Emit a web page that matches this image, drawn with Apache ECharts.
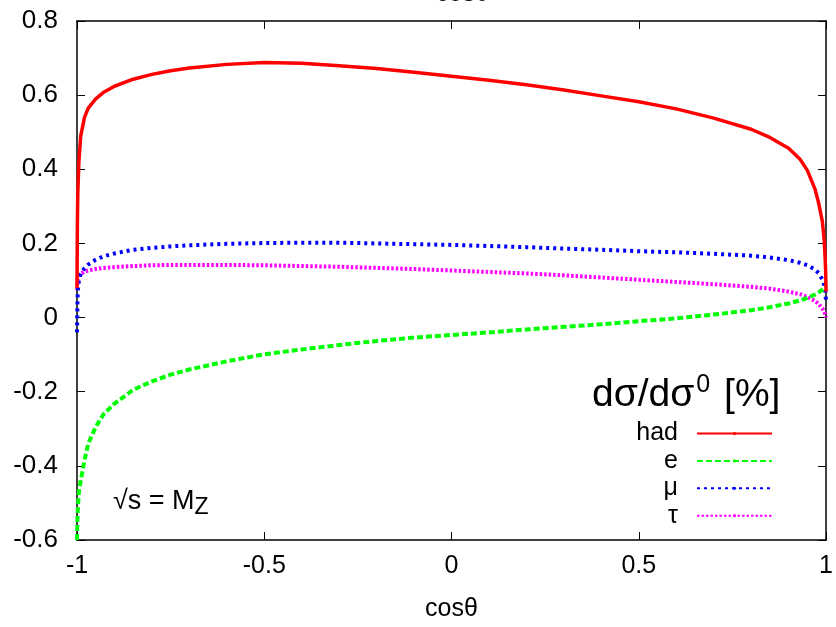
<!DOCTYPE html>
<html>
<head>
<meta charset="utf-8">
<script src="https://cdn.jsdelivr.net/npm/echarts@6/dist/echarts.min.js"></script>
<style>
html,body{margin:0;padding:0;background:#fff;}
#chart{width:836px;height:627px;}
</style>
</head>
<body>
<div id="chart"></div>
<script>
const cosTheta = [-1, -0.999, -0.998, -0.995, -0.99, -0.98, -0.97, -0.95, -0.93, -0.9, -0.85, -0.8, -0.75, -0.7, -0.6, -0.5, -0.4, -0.3, -0.2, -0.1, 0, 0.1, 0.2, 0.3, 0.4, 0.5, 0.6, 0.7, 0.8, 0.85, 0.9, 0.93, 0.95, 0.97, 0.98, 0.99, 0.995, 0.998, 0.999, 1];
const hadValues = [0.08, 0.25, 0.33, 0.42, 0.49, 0.54, 0.565, 0.59, 0.607, 0.624, 0.643, 0.656, 0.666, 0.673, 0.683, 0.688, 0.686, 0.679, 0.672, 0.662, 0.651, 0.64, 0.628, 0.614, 0.598, 0.582, 0.563, 0.538, 0.508, 0.486, 0.457, 0.428, 0.397, 0.348, 0.31, 0.26, 0.21, 0.15, 0.12, 0.07];
const eValues = [-0.6, -0.55, -0.52, -0.47, -0.44, -0.385, -0.34, -0.295, -0.262, -0.232, -0.195, -0.172, -0.154, -0.14, -0.118, -0.099, -0.086, -0.074, -0.063, -0.054, -0.047, -0.04, -0.032, -0.025, -0.018, -0.01, -0.002, 0.008, 0.02, 0.028, 0.038, 0.046, 0.053, 0.062, 0.068, 0.075, 0.08, 0.083, 0.085, 0.087];
const muValues = [-0.04, 0.03, 0.07, 0.1, 0.118, 0.133, 0.143, 0.156, 0.165, 0.173, 0.183, 0.188, 0.192, 0.195, 0.199, 0.201, 0.202, 0.202, 0.2, 0.198, 0.196, 0.193, 0.19, 0.186, 0.183, 0.179, 0.176, 0.172, 0.167, 0.162, 0.155, 0.148, 0.141, 0.13, 0.12, 0.103, 0.088, 0.072, 0.06, 0.04];
const tauValues = [0.075, 0.095, 0.105, 0.112, 0.118, 0.124, 0.127, 0.131, 0.134, 0.136, 0.139, 0.141, 0.142, 0.142, 0.142, 0.141, 0.139, 0.137, 0.134, 0.131, 0.127, 0.123, 0.119, 0.114, 0.108, 0.102, 0.096, 0.09, 0.083, 0.078, 0.07, 0.063, 0.056, 0.045, 0.037, 0.025, 0.016, 0.008, 0.004, 0.0];
const seriesNames = ['had', 'e', '\u03bc', '\u03c4'];

const FONT = '"Liberation Sans", Arial, sans-serif';
const chart = echarts.init(document.getElementById('chart'));
const pairs = v => cosTheta.map((c, i) => [c, v[i]]);
const fmt = v => String(Math.round(v * 10) / 10);

const baseAxisStyle = {
  axisLine: { show: true, onZero: false, lineStyle: { color: '#000', width: 1.5 } },
  axisTick: { show: true, inside: true, length: 8, lineStyle: { color: '#000', width: 1 } },
  splitLine: { show: false }
};

chart.setOption({
  animation: false,
  backgroundColor: '#fff',
  grid: { left: 77, right: 7, top: 21, bottom: 84, containLabel: false },
  xAxis: [
    Object.assign({
      type: 'value', min: -1, max: 1, interval: 0.5, position: 'bottom',
      name: 'cos\u03b8', nameLocation: 'middle', nameGap: 57,
      nameTextStyle: { fontFamily: FONT, fontSize: 25, color: '#000' },
      axisLabel: { fontFamily: FONT, fontSize: 25, color: '#000', margin: 14, formatter: fmt }
    }, baseAxisStyle),
    Object.assign({
      type: 'value', min: -1, max: 1, interval: 0.5, position: 'top',
      axisLabel: { show: false }
    }, baseAxisStyle)
  ],
  yAxis: [
    Object.assign({
      type: 'value', min: -0.6, max: 0.8, interval: 0.2, position: 'left',
      axisLabel: { fontFamily: FONT, fontSize: 26, color: '#000', margin: 19, formatter: fmt }
    }, baseAxisStyle),
    Object.assign({
      type: 'value', min: -0.6, max: 0.8, interval: 0.2, position: 'right',
      axisLabel: { show: false }
    }, baseAxisStyle)
  ],
  legend: {
    orient: 'vertical', right: 63, top: 421, align: 'right', padding: 0,
    itemWidth: 75, itemHeight: 4, itemGap: 2.4,
    textStyle: { fontFamily: FONT, fontSize: 25, color: '#000', padding: [0, 14, 0, 0] },
    data: seriesNames
  },
  graphic: [
    { type: 'text', left: 436, top: -18, style: { text: 'cos\u03b8', font: '25px ' + FONT, fill: '#000' } },
    { type: 'text', left: 592, top: 373, style: {
        text: 'd\u03c3/d\u03c3{sup|0} [%]',
        font: '39px ' + FONT, fill: '#000',
        rich: { sup: { fontSize: 25, fontFamily: FONT, verticalAlign: 'top', padding: [0, 3, 20, 2] } }
    } },
    { type: 'text', left: 113, top: 488, style: {
        text: '\u221as = M{sub|Z}',
        font: '27px ' + FONT, fill: '#000',
        rich: { sub: { fontSize: 23, fontFamily: FONT, padding: [12, 0, 0, 0] } }
    } }
  ],
  series: [
    { name: seriesNames[0], type: 'line', data: pairs(hadValues), symbol: 'none',
      color: '#ff0000', lineStyle: { color: '#ff0000', width: 3.5 }, z: 5 },
    { name: seriesNames[1], type: 'line', data: pairs(eValues), symbol: 'none',
      color: '#00ff00', lineStyle: { color: '#00ff00', width: 4, type: [6, 3] }, z: 4 },
    { name: seriesNames[2], type: 'line', data: pairs(muValues), symbol: 'none',
      color: '#0000ff', lineStyle: { color: '#0000ff', width: 4, type: [3, 4] }, z: 3 },
    { name: seriesNames[3], type: 'line', data: pairs(tauValues), symbol: 'none',
      color: '#ff00ff', lineStyle: { color: '#ff00ff', width: 4, type: [2.5, 2] }, z: 2 }
  ]
});
</script>
</body>
</html>
